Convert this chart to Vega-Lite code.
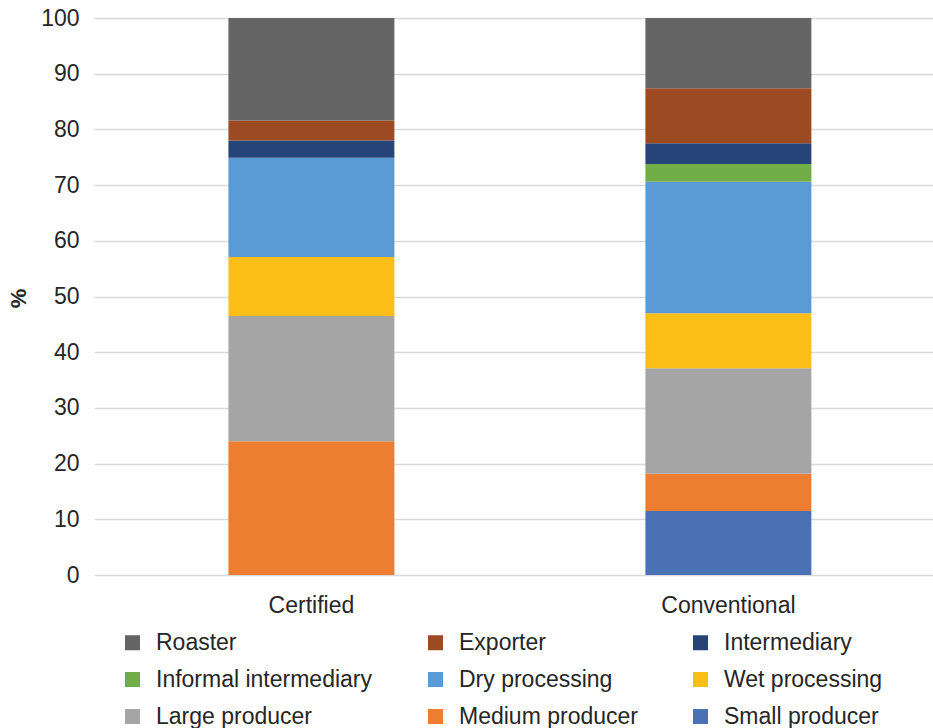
{
  "$schema": "https://vega.github.io/schema/vega-lite/v6.json",
  "width": 839,
  "height": 557,
  "autosize": {"type": "none"},
  "padding": {"left": 94, "top": 18, "right": 0, "bottom": 153},
  "background": "white",
  "config": {
    "font": "Liberation Sans",
    "view": {"stroke": null},
    "axis": {"labelColor": "#262626", "titleColor": "#262626"}
  },
  "data": {
    "values": [
      {"type": "Certified", "actor": "Medium producer", "rank": 2, "share": 24.0},
      {"type": "Certified", "actor": "Large producer", "rank": 3, "share": 22.5},
      {"type": "Certified", "actor": "Wet processing", "rank": 4, "share": 10.6},
      {"type": "Certified", "actor": "Dry processing", "rank": 5, "share": 17.8},
      {"type": "Certified", "actor": "Intermediary", "rank": 7, "share": 3.1},
      {"type": "Certified", "actor": "Exporter", "rank": 8, "share": 3.6},
      {"type": "Certified", "actor": "Roaster", "rank": 9, "share": 18.4},
      {"type": "Conventional", "actor": "Small producer", "rank": 1, "share": 11.5},
      {"type": "Conventional", "actor": "Medium producer", "rank": 2, "share": 6.7},
      {"type": "Conventional", "actor": "Large producer", "rank": 3, "share": 18.9},
      {"type": "Conventional", "actor": "Wet processing", "rank": 4, "share": 9.9},
      {"type": "Conventional", "actor": "Dry processing", "rank": 5, "share": 23.6},
      {"type": "Conventional", "actor": "Informal intermediary", "rank": 6, "share": 3.2},
      {"type": "Conventional", "actor": "Intermediary", "rank": 7, "share": 3.7},
      {"type": "Conventional", "actor": "Exporter", "rank": 8, "share": 9.9},
      {"type": "Conventional", "actor": "Roaster", "rank": 9, "share": 12.6}
    ]
  },
  "mark": {"type": "bar"},
  "encoding": {
    "x": {
      "field": "type",
      "type": "nominal",
      "sort": ["Certified", "Conventional"],
      "scale": {"paddingInner": 0.602, "paddingOuter": 0.307, "align": 0.525},
      "axis": {
        "title": null,
        "labelAngle": 0,
        "labelFontSize": 23,
        "labelPadding": 19,
        "ticks": false,
        "tickSize": 0,
        "domain": false,
        "grid": false
      }
    },
    "y": {
      "field": "share",
      "type": "quantitative",
      "stack": "zero",
      "scale": {"domain": [0, 100], "nice": false},
      "axis": {
        "title": "%",
        "titleFontSize": 22,
        "titleFontWeight": "bold",
        "titleX": -76,
        "titleY": 280,
        "titleAngle": 270,
        "titleAlign": "center",
        "titleBaseline": "middle",
        "values": [0, 10, 20, 30, 40, 50, 60, 70, 80, 90, 100],
        "labelFontSize": 23,
        "labelPadding": 15,
        "ticks": false,
        "domain": false,
        "grid": true,
        "gridColor": "#d9d9d9",
        "gridWidth": 1.6
      }
    },
    "order": {"field": "rank", "type": "quantitative", "sort": "ascending"},
    "color": {
      "field": "actor",
      "type": "nominal",
      "scale": {
        "domain": ["Roaster", "Exporter", "Intermediary", "Informal intermediary", "Dry processing", "Wet processing", "Large producer", "Medium producer", "Small producer"],
        "range": ["#656565", "#9C4A22", "#264478", "#70AD47", "#5B9BD5", "#FBBF17", "#A5A5A5", "#ED7D31", "#4A71B3"]
      },
      "legend": {
        "title": null,
        "orient": "none",
        "legendX": 27,
        "legendY": 613,
        "direction": "horizontal",
        "columns": 3,
        "columnPadding": 51,
        "rowPadding": 13,
        "padding": 0,
        "symbolType": "square",
        "symbolSize": 225,
        "symbolStrokeWidth": 0,
        "labelFontSize": 23,
        "labelColor": "#262626",
        "labelOffset": 12,
        "labelLimit": 400
      }
    }
  }
}
